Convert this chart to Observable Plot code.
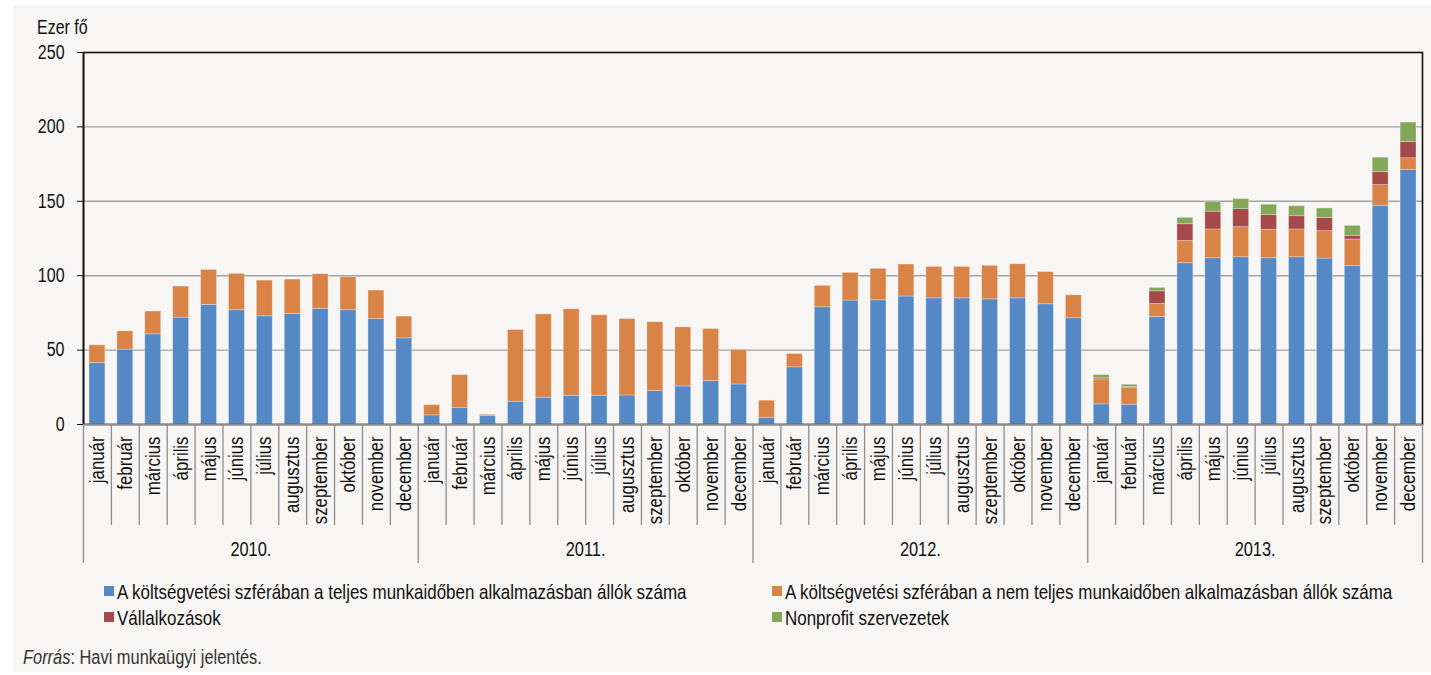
<!DOCTYPE html>
<html>
<head>
<meta charset="utf-8">
<script src="https://cdn.jsdelivr.net/npm/d3@7"></script>
<script src="https://cdn.jsdelivr.net/npm/@observablehq/plot@0.6"></script>
<style>
  body { margin: 0; background: #ffffff; font-family: "Liberation Sans", Arial, sans-serif; color: #111; }
  #panel { position: absolute; left: 13px; top: 5px; width: 1418px; height: 667px; background: #f7f6f4; overflow: hidden; }
  #chart { position: absolute; left: 0; top: 0; }
  .nar { display: inline-block; transform: scaleX(0.82); transform-origin: 0 50%; white-space: nowrap; }
  #unit { position: absolute; left: 24px; top: 12px; font-size: 19.5px; line-height: 20px; }
  .lg { position: absolute; font-size: 20.7px; line-height: 21px; white-space: nowrap; }
  .sw { position: absolute; width: 10px; height: 10px; left: -13px; top: 5px; }
  #caption { position: absolute; left: 10px; top: 642px; font-size: 20px; line-height: 20px; color: #333; }
</style>
</head>
<body>
<div id="panel">
  <div id="chart"></div>
  <div id="unit"><span class="nar">Ezer fő</span></div>
  <div id="legend"></div>
  <div id="caption"><span class="nar"><i>Forrás</i>: Havi munkaügyi jelentés.</span></div>
</div>
<script>
const years = ["2010.", "2011.", "2012.", "2013."];
const months = ["január", "február", "március", "április", "május", "június", "július", "augusztus", "szeptember", "október", "november", "december"];
const seriesNames = [
  "A költségvetési szférában a teljes munkaidőben alkalmazásban állók száma",
  "A költségvetési szférában a nem teljes munkaidőben alkalmazásban állók száma",
  "Vállalkozások",
  "Nonprofit szervezetek"
];
const seriesColors = ["#5589c6", "#d98446", "#a5494a", "#83a85a"];

// Values in thousand persons, Jan 2010 – Dec 2013
const fullTime = [
  41.3, 50.3, 60.6, 71.8, 80.4, 76.8, 72.7, 74.3, 77.7, 76.8, 70.9, 57.9,
  6.1, 11.0, 5.6, 15.3, 18.0, 19.3, 19.3, 19.5, 22.5, 25.6, 29.2, 26.9,
  4.5, 38.4, 78.8, 83.3, 83.5, 86.0, 84.8, 84.8, 84.1, 84.8, 80.8, 71.4,
  13.5, 13.3, 72.3, 108.4, 111.7, 112.4, 111.7, 112.4, 111.5, 106.4, 147.0, 171.0
];
const partTime = [
  11.9, 12.3, 15.3, 20.9, 23.5, 24.4, 24.0, 23.1, 23.3, 22.2, 19.1, 14.6,
  6.9, 22.2, 0.9, 48.2, 56.0, 58.1, 54.1, 51.4, 46.2, 39.7, 35.0, 23.2,
  11.5, 9.0, 14.4, 18.6, 21.1, 21.5, 21.1, 21.1, 22.5, 22.9, 21.6, 15.4,
  16.8, 11.4, 8.7, 15.0, 19.4, 20.2, 19.2, 18.7, 18.4, 17.9, 13.9, 7.9
];
const enterprises = [
  0, 0, 0, 0, 0, 0, 0, 0, 0, 0, 0, 0,
  0, 0, 0, 0, 0, 0, 0, 0, 0, 0, 0, 0,
  0, 0, 0, 0, 0, 0, 0, 0, 0, 0, 0, 0,
  0.7, 0.5, 8.5, 11.2, 11.9, 12.1, 9.8, 8.9, 8.8, 2.5, 8.7, 10.9
];
const nonprofit = [
  0, 0, 0, 0, 0, 0, 0, 0, 0, 0, 0, 0,
  0, 0, 0, 0, 0, 0, 0, 0, 0, 0, 0, 0,
  0, 0, 0, 0, 0, 0, 0, 0, 0, 0, 0, 0,
  2.2, 1.5, 2.3, 4.3, 6.4, 6.8, 7.0, 6.7, 6.5, 6.7, 9.7, 13.1
];
const seriesValues = [fullTime, partTime, enterprises, nonprofit];

const periods = [];
years.forEach((y, yi) => months.forEach((m, mi) => periods.push({i: yi * 12 + mi, year: y, month: m})));

const rows = [];
periods.forEach(p => seriesValues.forEach((vals, s) => rows.push({i: p.i, series: seriesNames[s], value: vals[p.i]})));

const bounds = d3.range(periods.length + 1);
const monthBounds = bounds.filter(b => b % months.length !== 0);
const yearBounds = bounds.filter(b => b % months.length === 0);

const font = '"Liberation Sans", Arial, sans-serif';

const chart = Plot.plot({
  width: 1418,
  height: 570,
  marginLeft: 70,
  marginRight: 9,
  marginTop: 47,
  marginBottom: 151,
  style: {background: "transparent", fontFamily: font, fontSize: "19.5px", color: "#111", overflow: "visible"},
  x: {domain: [0, periods.length], axis: null},
  y: {domain: [0, 250], ticks: 5, tickSize: 6, tickPadding: 13, label: null},
  color: {domain: seriesNames, range: seriesColors},
  marks: [
    Plot.ruleY([50, 100, 150, 200], {stroke: "#a4a4a4", strokeWidth: 1.4}),
    Plot.rectY(rows, {x: "i", interval: 1, y: "value", fill: "series", insetLeft: 6, insetRight: 6, stroke: "#ffffff", strokeOpacity: 0.35, strokeWidth: 0.8}),
    Plot.frame({stroke: "#111", strokeWidth: 1.6}),
    Plot.ruleX(monthBounds, {x: d => d, y1: 0, y2: 0, insetBottom: -101, stroke: "#8e8e8e", strokeWidth: 1.3}),
    Plot.ruleX(yearBounds, {x: d => d, y1: 0, y2: 0, insetBottom: -139, stroke: "#8e8e8e", strokeWidth: 1.3}),
    Plot.ruleY([0], {stroke: "#8e8e8e", strokeWidth: 1.6}),
    Plot.ruleX([0], {stroke: "#111", strokeWidth: 1.6}),
    Plot.text(periods, {x: d => d.i + 0.5, y: 0, text: "month", rotate: -90, textAnchor: "end", dy: 12, fontSize: 20.5, fill: "#111"}),
    Plot.text(years, {x: (d, k) => k * months.length + months.length / 2, y: 0, text: d => d, dy: 125, fontSize: 20, fill: "#111"})
  ]
});
document.getElementById("chart").appendChild(chart);

// Emulate a narrow (condensed) face: compress each SVG text horizontally about its anchor
chart.querySelectorAll("text").forEach(t => {
  const bb = t.getBBox();
  if (!bb.width) return;
  const anchor = getComputedStyle(t).textAnchor;
  const ax = anchor === "end" ? bb.x + bb.width : anchor === "middle" ? bb.x + bb.width / 2 : bb.x;
  const prev = t.getAttribute("transform") || "";
  t.setAttribute("transform", `${prev} translate(${ax},0) scale(0.82,1) translate(${-ax},0)`.trim());
});

// Legend
const legendPos = [
  {left: 104, top: 576}, {left: 772, top: 576},
  {left: 104, top: 602}, {left: 772, top: 602}
];
const legend = document.getElementById("legend");
seriesNames.forEach((name, k) => {
  const item = document.createElement("div");
  item.className = "lg";
  item.style.left = legendPos[k].left + "px";
  item.style.top = legendPos[k].top + "px";
  const sw = document.createElement("span");
  sw.className = "sw";
  sw.style.background = seriesColors[k];
  item.appendChild(sw);
  const tx = document.createElement("span");
  tx.className = "nar";
  tx.textContent = name;
  item.appendChild(tx);
  legend.appendChild(item);
});
</script>
</body>
</html>
